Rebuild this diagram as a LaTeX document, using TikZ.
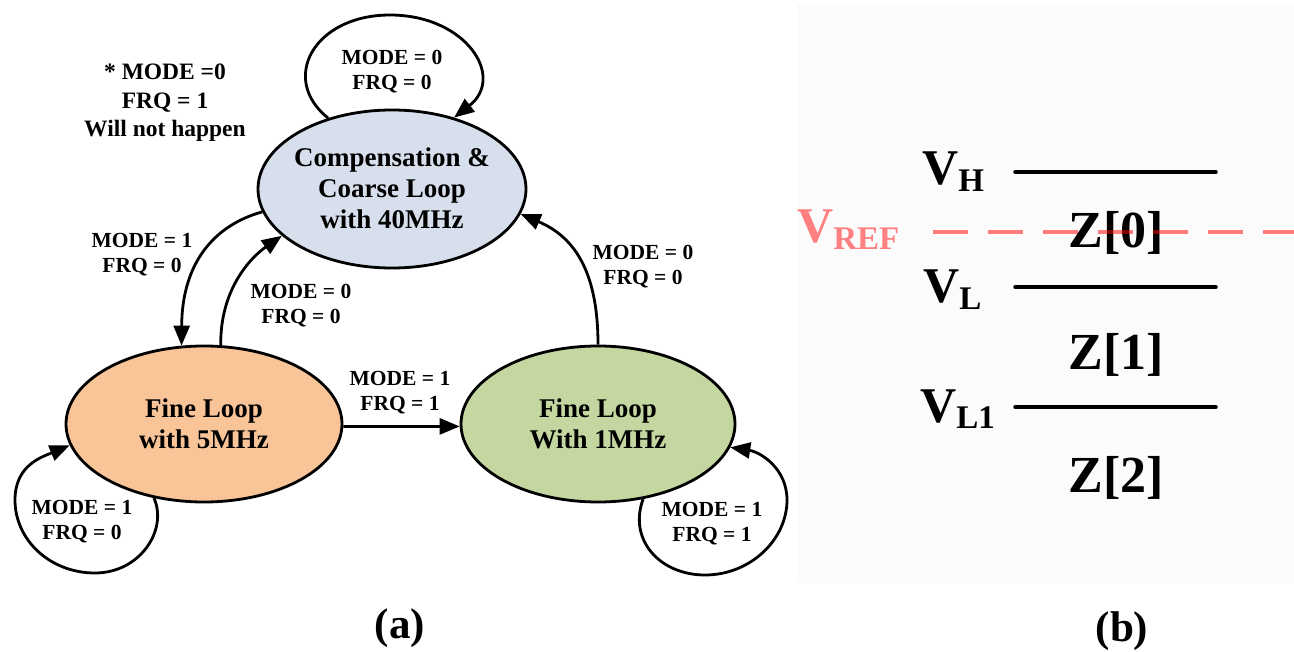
\documentclass[tikz,border=0pt]{standalone}
\usepackage{fontspec}
\setmainfont{Liberation Serif}
\usetikzlibrary{shapes.geometric,arrows.meta}
\definecolor{cblue}{RGB}{214,223,235}
\definecolor{corange}{RGB}{248,196,152}
\definecolor{cgreen}{RGB}{196,215,160}
\definecolor{cpink}{RGB}{255,128,128}
\begin{document}
\begin{tikzpicture}[x=1pt,y=-1pt,
  st/.style={draw=black, line width=2.8pt, shape=ellipse, inner sep=0pt},
  stxt/.style={font=\bfseries\fontsize{27}{31}\selectfont, align=center, inner sep=0pt},
  lbl/.style={font=\bfseries\fontsize{21.5}{25}\selectfont, align=center, inner sep=0pt},
  notetxt/.style={font=\bfseries\fontsize{23.5}{28.5}\selectfont, align=center, inner sep=0pt},
  captxt/.style={font=\bfseries\fontsize{43}{43}\selectfont, anchor=base, inner sep=0pt},
  tr/.style={line width=2.8pt, -{Triangle[length=20pt,width=16pt]}},
  lvl/.style={line width=3.5pt, line cap=round},
  vlab/.style={anchor=base west, inner sep=0pt, font=\bfseries},
  zlab/.style={anchor=base, inner sep=0pt, font=\bfseries\fontsize{52}{52}\selectfont}
]
\useasboundingbox (0,0) rectangle (1294,652);
\fill[black!1.5] (797,4) rectangle (1294,583);

% ---------- panel (a) ----------
\node[st, fill=cblue, minimum width=268pt, minimum height=158pt] (top) at (392,189) {};
\node[st, fill=corange, minimum width=276pt, minimum height=156pt] (left) at (204,424) {};
\node[st, fill=cgreen, minimum width=274pt, minimum height=156pt] (right) at (598,424) {};

\node[stxt] (toptxt) at (392,188) {Compensation \&\\Coarse Loop\\with 40MHz};
\node[stxt] (lefttxt) at (204,424) {Fine Loop\\with 5MHz};
\node[stxt] (righttxt) at (598,424) {Fine Loop\\With 1MHz};

% self loop on top state
\draw[tr] (top.132) .. controls (279,79) and (314,15) .. (390,15)
                    .. controls (466,15) and (506,77) .. (top.49);
% top -> left
\draw[tr] (top.190) .. controls (215,225) and (182,262) .. (left.106);
% left -> top
\draw[tr] (left.78) .. controls (220,290) and (250,258) .. (top.203);
% left -> right
\draw[tr] (left.-1.5) -- (right.181.5);
% right -> top
\draw[tr] (right.north) .. controls (598,268) and (572,236) .. (top.-11);
% self loop left
\draw[tr] (left.236) .. controls (168,530) and (140,573) .. (95,573)
                     .. controls (50,573) and (15,540) .. (15,500)
                     .. controls (15,465) and (42,457) .. (left.189);
% self loop right
\draw[tr] (right.-59) .. controls (628,540) and (660,575) .. (705,575)
                      .. controls (750,575) and (787,540) .. (787,500)
                      .. controls (787,468) and (760,452) .. (right.-10);

\node[lbl] (l1) at (392,71.5) {MODE = 0\\FRQ = 0};
\node[notetxt] (nt) at (165,103) {* MODE =0\\FRQ = 1\\Will not happen};
\node[lbl] (l2) at (142,255) {MODE = 1\\FRQ = 0};
\node[lbl] (l3) at (301,305.5) {MODE = 0\\FRQ = 0};
\node[lbl] (l4) at (643,267) {MODE = 0\\FRQ = 0};
\node[lbl] (l5) at (400,392.5) {MODE = 1\\FRQ = 1};
\node[lbl] (l6) at (82,521.5) {MODE = 1\\FRQ = 0};
\node[lbl] (l7) at (712,523.5) {MODE = 1\\FRQ = 1};

\node[captxt] (capa) at (400,638) {(a)};

% ---------- panel (b) ----------
\coordinate (h1) at (1015,172);  \coordinate (h2) at (1216,172);
\coordinate (m1) at (1015,287);  \coordinate (m2) at (1216,287);
\coordinate (b1) at (1015,407);  \coordinate (b2) at (1216,407);
\coordinate (r1) at (933,232);   \coordinate (r2) at (1300,232);

\draw[lvl] (h1) -- (h2);
\draw[lvl] (m1) -- (m2);
\draw[lvl] (b1) -- (b2);

\node[vlab] (vh) at (922,185) {\fontsize{50}{50}\selectfont V\fontsize{33}{33}\selectfont\raisebox{-7pt}{H}};
\node[vlab, text=cpink] (vref) at (797,243) {\fontsize{50}{50}\selectfont V\fontsize{33}{33}\selectfont\raisebox{-7pt}{REF}};
\node[vlab] (vl) at (923,303) {\fontsize{50}{50}\selectfont V\fontsize{33}{33}\selectfont\raisebox{-7pt}{L}};
\node[vlab] (vl1) at (920,422) {\fontsize{50}{50}\selectfont V\fontsize{33}{33}\selectfont\raisebox{-6pt}{L1}};

\node[zlab] (z0) at (1116,248) {Z[0]};
\node[zlab] (z1) at (1116,370) {Z[1]};
\node[zlab] (z2) at (1116,492) {Z[2]};

\draw[red, opacity=0.5, line width=3.3pt, dash pattern=on 35pt off 20pt] (r1) -- (r2);

\node[captxt] (capb) at (1122,641) {(b)};
\end{tikzpicture}
\end{document}
